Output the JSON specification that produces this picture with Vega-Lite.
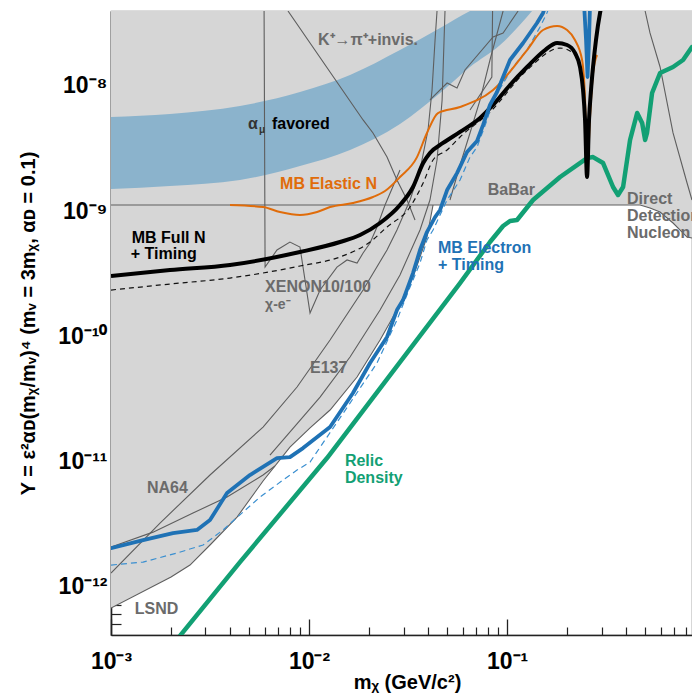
{
  "$schema": "https://vega.github.io/schema/vega-lite/v6.json",
  "width": 581,
  "height": 624,
  "autosize": {"type": "none"},
  "padding": {"left": 111, "top": 11, "right": 0, "bottom": 60},
  "background": "white",
  "config": {"view": {"stroke": "#7a7a7a", "strokeWidth": 1.2}, "font": "Liberation Sans"},
  "datasets": {
    "excl": [{"x":0.001,"y":6.67e-13},{"x":0.00201,"y":1.18e-12},{"x":0.002506,"y":1.472e-12},{"x":0.003162,"y":2.13e-12},{"x":0.00433,"y":3.56e-12},{"x":0.00586,"y":6.92e-12},{"x":0.00801,"y":1.294e-11},{"x":0.01012,"y":1.84e-11},{"x":0.01277,"y":2.56e-11},{"x":0.01748,"y":4.7e-11},{"x":0.02284,"y":9.29e-11},{"x":0.0278,"y":1.614e-10},{"x":0.0335,"y":2.96e-10},{"x":0.0394,"y":6.19e-10},{"x":0.0423,"y":1.117e-9},{"x":0.47,"y":1.117e-9},{"x":0.527,"y":1.057e-9},{"x":0.5926,"y":9.82e-10},{"x":0.689,"y":8.02e-10},{"x":0.811,"y":6.19e-10},{"x":0.859,"y":6.08e-10}],
    "band": [{"x":0.001,"y":1.5e-9,"hi":5.65e-9},{"x":0.001986,"y":1.585e-9,"hi":5.97e-9},{"x":0.00448,"y":1.77e-9,"hi":6.92e-9},{"x":0.009,"y":2.29e-9,"hi":8.95e-9},{"x":0.01611,"y":3.08e-9,"hi":1.225e-8},{"x":0.0288,"y":4.97e-9,"hi":1.94e-8},{"x":0.0459,"y":8.79e-9,"hi":2.91e-8},{"x":0.065,"y":1.419e-8,"hi":3.98e-8},{"x":0.0922,"y":2.128e-8,"hi":5e-8},{"x":0.1337,"y":3.98e-8,"hi":5e-8}],
    "grey": [
      {"id":"babar","x":0.001,"y":1.117e-9},{"id":"babar","x":0.47,"y":1.117e-9},{"id":"babar","x":0.527,"y":1.057e-9},{"id":"babar","x":0.5926,"y":9.82e-10},{"id":"babar","x":0.689,"y":8.02e-10},{"id":"babar","x":0.811,"y":6.19e-10},{"id":"babar","x":0.859,"y":6.08e-10},
      {"id":"bound","x":0.001,"y":6.67e-13},{"id":"bound","x":0.00201,"y":1.18e-12},{"id":"bound","x":0.002506,"y":1.472e-12},{"id":"bound","x":0.003162,"y":2.13e-12},{"id":"bound","x":0.00433,"y":3.56e-12},{"id":"bound","x":0.00586,"y":6.92e-12},{"id":"bound","x":0.00801,"y":1.294e-11},{"id":"bound","x":0.01012,"y":1.84e-11},{"id":"bound","x":0.01277,"y":2.56e-11},{"id":"bound","x":0.01748,"y":4.7e-11},{"id":"bound","x":0.02284,"y":9.29e-11},{"id":"bound","x":0.0278,"y":1.614e-10},{"id":"bound","x":0.0335,"y":2.96e-10},{"id":"bound","x":0.0394,"y":6.19e-10},{"id":"bound","x":0.0423,"y":1.117e-9},
      {"id":"na64","x":0.001,"y":2.05e-12},{"id":"na64","x":0.00163,"y":2.7e-12},{"id":"na64","x":0.002595,"y":3.84e-12},{"id":"na64","x":0.003855,"y":5.15e-12},{"id":"na64","x":0.00586,"y":7.73e-12},{"id":"na64","x":0.00673,"y":9.12e-12},
      {"id":"e137a","x":0.001,"y":1.27e-12},{"id":"e137a","x":0.001768,"y":3.19e-12},{"id":"e137a","x":0.003162,"y":7.73e-12},{"id":"e137a","x":0.00586,"y":1.87e-11},{"id":"e137a","x":0.0087,"y":3.91e-11},{"id":"e137a","x":0.01277,"y":9.29e-11},{"id":"e137a","x":0.01875,"y":2.333e-10},{"id":"e137a","x":0.02477,"y":4.88e-10},{"id":"e137a","x":0.0278,"y":7.05e-10},{"id":"e137a","x":0.03237,"y":1.225e-9},{"id":"e137a","x":0.03635,"y":2.13e-9},{"id":"e137a","x":0.0399,"y":4.45e-9},{"id":"e137a","x":0.0418,"y":9.29e-9},{"id":"e137a","x":0.0433,"y":2.333e-8},{"id":"e137a","x":0.0443,"y":3.98e-8},
      {"id":"e137b","x":0.00635,"y":1.117e-11},{"id":"e137b","x":0.01137,"y":3.25e-11},{"id":"e137b","x":0.01611,"y":6.79e-11},{"id":"e137b","x":0.02284,"y":1.614e-10},{"id":"e137b","x":0.0288,"y":3.08e-10},{"id":"e137b","x":0.03635,"y":7.05e-10},{"id":"e137b","x":0.0408,"y":1.225e-9},{"id":"e137b","x":0.0443,"y":2.56e-9},{"id":"e137b","x":0.047,"y":7.73e-9},{"id":"e137b","x":0.0486,"y":3.98e-8},
      {"id":"kpi","x":0.00783,"y":3.98e-8},{"id":"kpi","x":0.01875,"y":5.35e-9},{"id":"kpi","x":0.02104,"y":4.21e-9},{"id":"kpi","x":0.02477,"y":2.7e-9},{"id":"kpi","x":0.0278,"y":1.77e-9},{"id":"kpi","x":0.03126,"y":1.225e-9},{"id":"kpi","x":0.0343,"y":8.47e-10},
      {"id":"xenon","x":0.00593,"y":3.98e-8},{"id":"xenon","x":0.006,"y":3.56e-10},{"id":"xenon","x":0.00689,"y":4.88e-10},{"id":"xenon","x":0.00801,"y":5.65e-10},{"id":"xenon","x":0.009,"y":5.15e-10},{"id":"xenon","x":0.01012,"y":1.528e-10},{"id":"xenon","x":0.01137,"y":2.333e-10},{"id":"xenon","x":0.01384,"y":3.56e-10},{"id":"xenon","x":0.01556,"y":4.06e-10},{"id":"xenon","x":0.01748,"y":3.84e-10},{"id":"xenon","x":0.01875,"y":4.61e-10},{"id":"xenon","x":0.02033,"y":5.55e-10},{"id":"xenon","x":0.02204,"y":7.45e-10},{"id":"xenon","x":0.0242,"y":1.117e-9},{"id":"xenon","x":0.0288,"y":2.13e-9},
      {"id":"dd","x":0.498,"y":3.98e-8},{"id":"dd","x":0.527,"y":2.655e-8},{"id":"dd","x":0.5926,"y":1.419e-8},{"id":"dd","x":0.689,"y":4.21e-9},{"id":"dd","x":0.811,"y":1.675e-9},{"id":"dd","x":0.859,"y":1.225e-9},
      {"id":"g9","x":0.0515,"y":1.225e-9},{"id":"g9","x":0.0579,"y":2.333e-9},{"id":"g9","x":0.065,"y":4.21e-9},{"id":"g9","x":0.0731,"y":7.73e-9},{"id":"g9","x":0.082,"y":1.614e-8},{"id":"g9","x":0.0955,"y":3.98e-8},
      {"id":"g10","x":0.065,"y":6.43e-9},{"id":"g10","x":0.0838,"y":1.18e-8},{"id":"g10","x":0.0845,"y":3.98e-8},
      {"id":"g11","x":0.0408,"y":7.73e-9},{"id":"g11","x":0.0498,"y":1.057e-8},{"id":"g11","x":0.0559,"y":9.64e-9},{"id":"g11","x":0.0613,"y":1.343e-8},{"id":"g11","x":0.085,"y":2.466e-8},{"id":"g11","x":0.0955,"y":2.655e-8},{"id":"g11","x":0.1137,"y":3.98e-8}
    ],
    "black": [{"x":0.001,"y":3.02e-10},{"x":0.001986,"y":3.37e-10},{"x":0.00399,"y":3.7e-10},{"x":0.009,"y":4.7e-10},{"x":0.01434,"y":5.65e-10},{"x":0.0181,"y":6.43e-10},{"x":0.02284,"y":8.02e-10},{"x":0.0288,"y":1.117e-9},{"x":0.0335,"y":1.556e-9},{"x":0.0377,"y":2.42e-9},{"x":0.0408,"y":2.91e-9},{"x":0.0475,"y":3.5e-9},{"x":0.0579,"y":4.29e-9},{"x":0.0731,"y":5.55e-9},{"x":0.085,"y":7.05e-9},{"x":0.1035,"y":1.019e-8},{"x":0.1262,"y":1.419e-8},{"x":0.1556,"y":1.94e-8},{"x":0.179,"y":2.208e-8},{"x":0.201,"y":2.128e-8},{"x":0.2203,"y":1.837e-8},{"x":0.2336,"y":1.419e-8},{"x":0.242,"y":9.29e-9},{"x":0.2477,"y":5.35e-9},{"x":0.2535,"y":1.87e-9},{"x":0.2594,"y":5.35e-9},{"x":0.2655,"y":9.29e-9},{"x":0.2718,"y":1.419e-8},{"x":0.2813,"y":2.333e-8},{"x":0.2949,"y":3.84e-8},{"x":0.302,"y":4.6e-8}],
    "bdash": [{"x":0.001,"y":2.333e-10},{"x":0.001986,"y":2.606e-10},{"x":0.00399,"y":2.91e-10},{"x":0.009,"y":3.63e-10},{"x":0.01434,"y":4.29e-10},{"x":0.02033,"y":5.65e-10},{"x":0.02477,"y":7.45e-10},{"x":0.03237,"y":1.076e-9},{"x":0.0377,"y":1.675e-9},{"x":0.0423,"y":2.56e-9},{"x":0.0498,"y":3.08e-9},{"x":0.0579,"y":3.91e-9},{"x":0.082,"y":6.19e-9},{"x":0.1262,"y":1.343e-8},{"x":0.1853,"y":2.01e-8},{"x":0.2153,"y":1.837e-8},{"x":0.2336,"y":1.419e-8},{"x":0.245,"y":7.73e-9}],
    "orange": [{"x":0.00399,"y":1.117e-9},{"x":0.00586,"y":1.076e-9},{"x":0.007135,"y":9.82e-10},{"x":0.009,"y":9.29e-10},{"x":0.01098,"y":9.82e-10},{"x":0.01277,"y":1.076e-9},{"x":0.01667,"y":1.159e-9},{"x":0.02104,"y":1.294e-9},{"x":0.0242,"y":1.445e-9},{"x":0.0288,"y":1.87e-9},{"x":0.0351,"y":2.7e-9},{"x":0.0394,"y":4.21e-9},{"x":0.0448,"y":6.08e-9},{"x":0.0579,"y":6.79e-9},{"x":0.085,"y":9.29e-9},{"x":0.1262,"y":1.94e-8},{"x":0.152,"y":2.805e-8},{"x":0.179,"y":3.02e-8},{"x":0.201,"y":2.805e-8},{"x":0.2203,"y":2.333e-8},{"x":0.2393,"y":1.614e-8},{"x":0.2477,"y":7.73e-9},{"x":0.2535,"y":2.01e-9},{"x":0.2624,"y":5.65e-9},{"x":0.2718,"y":1.27e-8},{"x":0.2847,"y":1.77e-8}],
    "blue": [
      {"s":"main","x":0.001,"y":2.01e-12},{"s":"main","x":0.001452,"y":2.333e-12},{"s":"main","x":0.002056,"y":2.65e-12},{"s":"main","x":0.002717,"y":2.81e-12},{"s":"main","x":0.003162,"y":3.37e-12},{"s":"main","x":0.003855,"y":5.55e-12},{"s":"main","x":0.00503,"y":7.73e-12},{"s":"main","x":0.00689,"y":1.057e-11},{"s":"main","x":0.00801,"y":1.076e-11},{"s":"main","x":0.00933,"y":1.27e-11},{"s":"main","x":0.01277,"y":1.87e-11},{"s":"main","x":0.01667,"y":3.5e-11},{"s":"main","x":0.02033,"y":6.08e-11},{"s":"main","x":0.02477,"y":9.82e-11},{"s":"main","x":0.0278,"y":1.614e-10},{"s":"main","x":0.02985,"y":1.94e-10},{"s":"main","x":0.0335,"y":3.19e-10},{"s":"main","x":0.0351,"y":4.06e-10},{"s":"main","x":0.03635,"y":4.88e-10},{"s":"main","x":0.0394,"y":6.79e-10},{"s":"main","x":0.0433,"y":8.95e-10},{"s":"main","x":0.0459,"y":1.019e-9},{"s":"main","x":0.0498,"y":1.472e-9},{"s":"main","x":0.0559,"y":2.01e-9},{"s":"main","x":0.0628,"y":2.965e-9},{"s":"main","x":0.07056,"y":3.63e-9},{"s":"main","x":0.0757,"y":4.88e-9},{"s":"main","x":0.082,"y":7.05e-9},{"s":"main","x":0.089,"y":8.95e-9},{"s":"main","x":0.1035,"y":1.614e-8},{"s":"main","x":0.1205,"y":2.208e-8},{"s":"main","x":0.1417,"y":3.19e-8},{"s":"main","x":0.152,"y":3.84e-8},{"s":"main","x":0.1574,"y":4.53e-8},
      {"s":"spike","x":0.245,"y":4.45e-8},{"s":"spike","x":0.2506,"y":2.333e-8},{"s":"spike","x":0.255,"y":1.18e-8},{"s":"spike","x":0.2594,"y":2.333e-8},{"s":"spike","x":0.2624,"y":4.45e-8}
    ],
    "bluedash": [{"x":0.001,"y":1.472e-12},{"x":0.001452,"y":1.556e-12},{"x":0.002153,"y":1.837e-12},{"x":0.002917,"y":2.13e-12},{"x":0.00368,"y":2.81e-12},{"x":0.004645,"y":3.91e-12},{"x":0.005655,"y":5.15e-12},{"x":0.00739,"y":7.05e-12},{"x":0.0087,"y":8.47e-12},{"x":0.01012,"y":9.82e-12},{"x":0.01233,"y":1.556e-11},{"x":0.01611,"y":2.91e-11},{"x":0.02204,"y":6.08e-11},{"x":0.0278,"y":1.343e-10},{"x":0.03237,"y":2.466e-10},{"x":0.03635,"y":3.84e-10},{"x":0.0394,"y":5.86e-10},{"x":0.0423,"y":7.05e-10},{"x":0.0498,"y":1.225e-9},{"x":0.0579,"y":1.77e-9},{"x":0.065,"y":2.7e-9},{"x":0.07056,"y":3.25e-9},{"x":0.0793,"y":5.35e-9},{"x":0.085,"y":7.73e-9},{"x":0.1072,"y":1.419e-8},{"x":0.1262,"y":1.94e-8},{"x":0.1468,"y":2.965e-8},{"x":0.159,"y":3.84e-8},{"x":0.1648,"y":4.45e-8}],
    "green": [{"x":0.001986,"y":3.19e-13},{"x":0.00448,"y":1.556e-12},{"x":0.01233,"y":1.057e-11},{"x":0.0288,"y":6.19e-11},{"x":0.0579,"y":2.65e-10},{"x":0.082,"y":5.65e-10},{"x":0.0955,"y":7.59e-10},{"x":0.1035,"y":8.32e-10},{"x":0.1123,"y":8.47e-10},{"x":0.1353,"y":1.225e-9},{"x":0.1853,"y":1.87e-9},{"x":0.2535,"y":2.65e-9},{"x":0.2718,"y":2.7e-9},{"x":0.3055,"y":2.42e-9},{"x":0.343,"y":1.556e-9},{"x":0.3635,"y":1.343e-9},{"x":0.3855,"y":1.556e-9},{"x":0.418,"y":3.7e-9},{"x":0.454,"y":6.08e-9},{"x":0.481,"y":5.06e-9},{"x":0.498,"y":3.7e-9},{"x":0.509,"y":4.21e-9},{"x":0.54,"y":8.79e-9},{"x":0.5926,"y":1.27e-8},{"x":0.689,"y":1.419e-8},{"x":0.774,"y":1.614e-8},{"x":0.859,"y":2.05e-8}],
    "labels": [
      {"t":"K⁺→π⁺+invis.","x":0.0111,"y":2.128e-8,"g":"grey"},
      {"t":"α","x":0.00492,"y":4.53e-9,"g":"dark"},
      {"t":"favored","x":0.0065,"y":4.53e-9,"g":"black"},
      {"t":"MB Elastic N","x":0.00714,"y":1.5e-9,"g":"orange"},
      {"t":"BaBar","x":0.0799,"y":1.343e-9,"g":"grey"},
      {"t":"MB Full N","x":0.001273,"y":5.55e-10,"g":"black"},
      {"t":"+ Timing","x":0.001258,"y":4.13e-10,"g":"black"},
      {"t":"XENON10/100","x":0.006,"y":2.25e-10,"g":"grey"},
      {"t":"MB Electron","x":0.0448,"y":4.61e-10,"g":"blue"},
      {"t":"+ Timing","x":0.0448,"y":3.37e-10,"g":"blue"},
      {"t":"Direct","x":0.4036,"y":1.138e-9,"g":"grey"},
      {"t":"Detection","x":0.4036,"y":8.32e-10,"g":"grey"},
      {"t":"Nucleon","x":0.4036,"y":6.08e-10,"g":"grey"},
      {"t":"E137","x":0.01012,"y":5.06e-11,"g":"grey"},
      {"t":"Relic","x":0.01518,"y":9.12e-12,"g":"green"},
      {"t":"Density","x":0.01518,"y":6.67e-12,"g":"green"},
      {"t":"NA64","x":0.00152,"y":5.55e-12,"g":"grey"},
      {"t":"LSND","x":0.001318,"y":5.97e-13,"g":"grey"}
    ],
    "small": [{"t":"χ-e⁻","x":0.006,"y":1.66e-10,"g":"grey"}],
    "sub": [{"t":"μ","x":0.00559,"y":4.21e-9,"g":"dark"}]
  },
  "encoding": {
    "x": {"field":"x","type":"quantitative","scale":{"type":"log","domain":[0.001,0.859],"nice":false},"axis":null},
    "y": {"field":"y","type":"quantitative","scale":{"type":"log","domain":[4.06e-13,3.98e-8],"nice":false},"axis":null}
  },
  "layer": [
    {
      "data": {"name":"excl"},
      "mark": {"type":"area","color":"#d6d6d6","clip":true},
      "encoding": {
        "x": {"field":"x","type":"quantitative","scale":{"type":"log","domain":[0.001,0.859],"nice":false},
          "axis":{"orient":"bottom","values":[0.001,0.01,0.1],"grid":false,"tickSize":-16,"tickWidth":1.3,"tickColor":"#222","domainColor":"#222","domainWidth":1.6,
            "labelFont":"Liberation Sans","labelFontWeight":"bold","labelFontSize":23,"labelColor":"#000","labelPadding":49,"labelBaseline":"alphabetic","labelFlush":false,"labelOverlap":false,
            "labelExpr":"datum.value < 0.005 ? '10⁻³' : datum.value < 0.05 ? '10⁻²' : '10⁻¹'",
            "title":"mᵪ (GeV/c²)","titleFont":"Liberation Sans","titleFontSize":20,"titleFontWeight":"bold","titleColor":"#000","titleX":296,"titleY":53,"titleBaseline":"alphabetic","titleAlign":"center"}},
        "y": {"field":"y","type":"quantitative","scale":{"type":"log","domain":[4.06e-13,3.98e-8],"nice":false},
          "axis":{"orient":"left","values":[1e-12,1e-11,1e-10,1e-9,1e-8],"grid":false,"tickSize":-19,"tickWidth":1.3,"tickColor":"#222","domainColor":"#222","domainWidth":1.6,
            "labelFont":"Liberation Sans","labelFontWeight":"bold","labelFontSize":23,"labelColor":"#000","labelPadding":23,"labelAlign":"right","labelBaseline":"middle","labelFlush":false,"labelOverlap":false,
            "labelExpr":"datum.value < 5e-12 ? '10⁻¹²' : datum.value < 5e-11 ? '10⁻¹¹' : datum.value < 5e-10 ? '10⁻¹⁰' : datum.value < 5e-9 ? '10⁻⁹' : '10⁻⁸'",
            "title":"Y = ε²αᴅ(mᵪ/mᵥ)⁴ (mᵥ = 3mᵪ, αᴅ = 0.1)","titleFont":"Liberation Sans","titleFontSize":20,"titleFontWeight":"bold","titleColor":"#000","titleX":-83,"titleY":312,"titleAngle":270,"titleAlign":"center","titleBaseline":"middle"}},
        "y2": {"datum":3.98e-8}
      }
    },
    {
      "data": {"name":"band"},
      "mark": {"type":"area","color":"#8bb3cc","interpolate":"monotone","clip":true},
      "encoding": {
        "x": {"field":"x","type":"quantitative","scale":{"type":"log","domain":[0.001,0.859],"nice":false},
          "axis":{"orient":"bottom","values":[0.002,0.003,0.004,0.005,0.006,0.007,0.008,0.009,0.02,0.03,0.04,0.05,0.06,0.07,0.08,0.09,0.2,0.3,0.4,0.5,0.6,0.7,0.8],"grid":false,"tickSize":-8,"tickWidth":1.2,"tickColor":"#222","domain":false,"labels":false,"title":null}},
        "y": {"field":"y","type":"quantitative","scale":{"type":"log","domain":[4.06e-13,3.98e-8],"nice":false},
          "axis":{"orient":"left","values":[5e-13,6e-13,7e-13,8e-13,9e-13,2e-12,3e-12,4e-12,5e-12,6e-12,7e-12,8e-12,9e-12,2e-11,3e-11,4e-11,5e-11,6e-11,7e-11,8e-11,9e-11,2e-10,3e-10,4e-10,5e-10,6e-10,7e-10,8e-10,9e-10,2e-9,3e-9,4e-9,5e-9,6e-9,7e-9,8e-9,9e-9,2e-8,3e-8],"grid":false,"tickSize":-10,"tickWidth":1.2,"tickColor":"#222","domain":false,"labels":false,"title":null}},
        "y2": {"field":"hi"}
      }
    },
    {"data":{"name":"grey"},"mark":{"type":"line","color":"#5e5e5e","strokeWidth":1.1,"clip":true},"encoding":{"detail":{"field":"id"}}},
    {"data":{"name":"bdash"},"mark":{"type":"line","color":"#111","strokeWidth":1.2,"strokeDash":[5,4],"interpolate":"monotone","clip":true},"encoding":{}},
    {"data":{"name":"bluedash"},"mark":{"type":"line","color":"#3a8fd0","strokeWidth":1.2,"strokeDash":[6,4],"clip":true},"encoding":{}},
    {"data":{"name":"orange"},"mark":{"type":"line","color":"#e06c0a","strokeWidth":2,"interpolate":"monotone","clip":true},"encoding":{}},
    {"data":{"name":"green"},"mark":{"type":"line","color":"#12a074","strokeWidth":4.5,"strokeJoin":"round","strokeCap":"round","clip":true},"encoding":{}},
    {"data":{"name":"black"},"mark":{"type":"line","color":"#000","strokeWidth":4,"strokeJoin":"round","interpolate":"monotone","clip":true},"encoding":{}},
    {"data":{"name":"blue"},"mark":{"type":"line","color":"#1f72b5","strokeWidth":3.8,"strokeJoin":"round","strokeCap":"round","clip":true},"encoding":{"detail":{"field":"s"}}},
    {"data":{"name":"labels"},"mark":{"type":"text","align":"left","baseline":"alphabetic","fontSize":16,"fontWeight":"bold","font":"Liberation Sans"},
      "encoding":{"text":{"field":"t"},"color":{"field":"g","type":"nominal","scale":{"domain":["grey","dark","black","orange","blue","green"],"range":["#6b6b6b","#333333","#000000","#e06c0a","#1f72b5","#12a074"]},"legend":null}}},
    {"data":{"name":"small"},"mark":{"type":"text","align":"left","baseline":"alphabetic","fontSize":14,"fontWeight":"bold","font":"Liberation Sans"},
      "encoding":{"text":{"field":"t"},"color":{"field":"g","type":"nominal","scale":{"domain":["grey","dark","black","orange","blue","green"],"range":["#6b6b6b","#333333","#000000","#e06c0a","#1f72b5","#12a074"]},"legend":null}}},
    {"data":{"name":"sub"},"mark":{"type":"text","align":"left","baseline":"alphabetic","fontSize":10,"fontWeight":"bold","font":"Liberation Sans"},
      "encoding":{"text":{"field":"t"},"color":{"field":"g","type":"nominal","scale":{"domain":["grey","dark","black","orange","blue","green"],"range":["#6b6b6b","#333333","#000000","#e06c0a","#1f72b5","#12a074"]},"legend":null}}}
  ],
  "resolve": {"axis": {"x":"independent","y":"independent"}}
}
